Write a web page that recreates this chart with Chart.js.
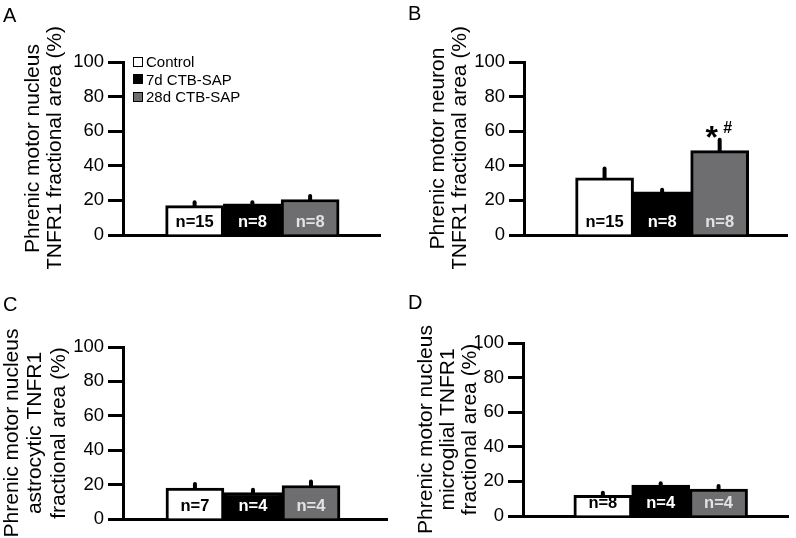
<!DOCTYPE html>
<html>
<head>
<meta charset="utf-8">
<script src="https://cdn.jsdelivr.net/npm/chart.js@4"></script>
<style>
  body { margin: 0; background: #fff; }
  #wrap { position: relative; width: 796px; height: 538px; font-family: "Liberation Sans", Arial, sans-serif; }
  canvas { position: absolute; }
  .letter { position: absolute; font-size: 20px; color: #000; }
  #legend { position: absolute; left: 133px; top: 53px; font-size: 15px; line-height: 17.5px; }
  #legend .row { display: flex; align-items: center; }
  #legend .box { width: 8px; height: 8px; border: 1.5px solid #000; margin-right: 3px; }
</style>
</head>
<body>
<div id="wrap">
  <canvas id="cA" width="398" height="269" style="left:0;top:0"></canvas>
  <canvas id="cB" width="398" height="269" style="left:398px;top:0"></canvas>
  <canvas id="cC" width="398" height="269" style="left:0;top:269px"></canvas>
  <canvas id="cD" width="398" height="269" style="left:398px;top:269px"></canvas>
  <div class="letter" style="left:3px;top:4px">A</div>
  <div class="letter" style="left:408px;top:2px">B</div>
  <div class="letter" style="left:3px;top:293px">C</div>
  <div class="letter" style="left:408px;top:291px">D</div>
  <div id="legend"></div>
</div>
<script>
// groups and colours
const groups = ['Control', '7d CTB-SAP', '28d CTB-SAP'];
const groupPos = [1, 2, 3];
const barColors = ['#ffffff', '#000000', '#6e6e70'];
const nColors = ['#000000', '#ffffff', '#e2e2e2'];

// A: phrenic motor nucleus TNFR1
const meanA = [17, 18, 20.5];
const semA = [2, 1, 2];
const nA = [15, 8, 8];
const markA = ['', '', ''];

// B: phrenic motor neuron TNFR1
const meanB = [33, 25, 48.8];
const semB = [5.5, 1.2, 6.3];
const nB = [15, 8, 8];
const markB = ['', '', '*#'];

// C: astrocytic TNFR1
const meanC = [18, 15.4, 19.5];
const semC = [2.3, 1.6, 2.3];
const nC = [7, 4, 4];
const markC = ['', '', ''];

// D: microglial TNFR1
const meanD = [12, 17.9, 15.6];
const semD = [1.4, 1.0, 1.7];
const nD = [8, 4, 4];
const markD = ['', '', ''];

const yTicks = [0, 20, 40, 60, 80, 100];
const FONT = '"Liberation Sans", Arial, sans-serif';

// legend
var leg = document.getElementById('legend');
groups.forEach(function(g, i){
    leg.innerHTML += '<div class="row"><span class="box" style="background:' + barColors[i] + '"></span>' + g + '</div>';
});

// error bars, n labels and significance marks
const extras = {
    id: 'extras',
    afterDatasetsDraw(chart) {
        const ctx = chart.ctx;
        const y = chart.scales.y;
        const p = chart.options.plugins.extras;
        const bars = chart.getDatasetMeta(0).data;
        ctx.save();
        bars.forEach(function(bar, i){
            const top = y.getPixelForValue(p.mean[i] + p.sem[i]);
            ctx.strokeStyle = '#000';
            ctx.lineWidth = 4;
            ctx.lineCap = 'round';
            ctx.beginPath();
            ctx.moveTo(bar.x, bar.y);
            ctx.lineTo(bar.x, top);
            ctx.stroke();

            ctx.fillStyle = nColors[i];
            ctx.font = 'bold 16.5px ' + FONT;
            ctx.textAlign = 'center';
            ctx.textBaseline = 'middle';
            ctx.fillText('n=' + p.n[i], bar.x, bar.base - 12);

            if (p.mark[i]) {
                ctx.fillStyle = '#000';
                ctx.font = 'bold 32px ' + FONT;
                ctx.fillText(p.mark[i][0], bar.x - 8, top - 1);
                ctx.font = 'bold 16px ' + FONT;
                ctx.fillText(p.mark[i][1], bar.x + 8, top - 11);
            }
        });
        ctx.restore();
    }
};

function panel(id, mean, sem, n, mark, title, lay) {
    new Chart(document.getElementById(id), {
        type: 'bar',
        data: {
            datasets: [{
                data: mean.map((v, i) => ({x: groupPos[i], y: v})),
                backgroundColor: barColors,
                borderColor: '#000',
                borderWidth: 3,
                barThickness: 58
            }]
        },
        options: {
            responsive: false,
            animation: false,
            layout: { padding: { left: 0, top: lay.top, right: lay.right, bottom: lay.bottom } },
            plugins: {
                legend: { display: false },
                tooltip: { enabled: false },
                extras: { mean: mean, sem: sem, n: n, mark: mark }
            },
            scales: {
                x: {
                    type: 'linear',
                    bounds: 'data',
                    offset: false,
                    min: lay.xmin, max: lay.xmax,
                    ticks: { display: false },
                    grid: { display: true, drawOnChartArea: false, drawTicks: false },
                    border: { display: true, color: '#000', width: 3 },
                    afterFit: s => { s.height = 0; }
                },
                y: {
                    min: 0, max: 100,
                    afterBuildTicks: s => { s.ticks = yTicks.map(v => ({value: v})); },
                    ticks: { color: '#000', font: { family: FONT, size: 18.5 }, padding: 4 },
                    grid: { drawOnChartArea: false, tickLength: 15, tickWidth: 3, tickColor: '#000' },
                    border: { display: true, color: '#000', width: 3 },
                    title: {
                        display: true, text: title, color: '#000',
                        font: { family: FONT, size: 21, lineHeight: lay.lh },
                        padding: { top: lay.tpad, bottom: 0 }
                    },
                    afterFit: s => { s.width = lay.left; }
                }
            }
        },
        plugins: [extras]
    });
}

panel('cA', meanA, semA, nA, markA, ['Phrenic motor nucleus', 'TNFR1 fractional area (%)'],
    { left: 123, top: 62, right: 18, bottom: 34, xmin: -0.24, xmax: 4.21, tpad: 22, lh: 1.05 });
panel('cB', meanB, semB, nB, markB, ['Phrenic motor neuron', 'TNFR1 fractional area (%)'],
    { left: 126, top: 62, right: 9, bottom: 34, xmin: -0.4, xmax: 4.17, tpad: 29, lh: 1.05 });
panel('cC', meanC, semC, nC, markC, ['Phrenic motor nucleus', 'astrocytic TNFR1', 'fractional area (%)'],
    { left: 123, top: 78, right: 11, bottom: 19, xmin: -0.24, xmax: 4.31, tpad: 0, lh: 1.12 });
panel('cD', meanD, semD, nD, markD, ['Phrenic motor nucleus', 'microglial TNFR1', 'fractional area (%)'],
    { left: 125, top: 74, right: 8, bottom: 22, xmin: -0.38, xmax: 4.2, tpad: 17, lh: 1.05 });
</script>
</body>
</html>
